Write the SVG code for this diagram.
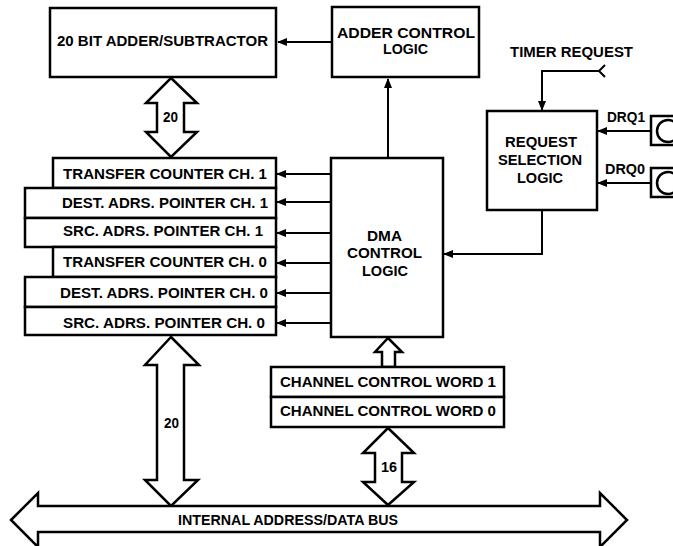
<svg xmlns="http://www.w3.org/2000/svg" width="673" height="546" viewBox="0 0 673 546">
<style>
.box{fill:#fff;stroke:#000;stroke-width:2.5}
.bus{fill:#fff;stroke:#000;stroke-width:2.5;stroke-linejoin:miter}
.ln{fill:none;stroke:#000;stroke-width:2}
text{font-family:"Liberation Sans",Arial,sans-serif;font-weight:bold;font-size:14px;fill:#000}
</style>
<defs>
<marker id="ah" markerUnits="userSpaceOnUse" markerWidth="10" markerHeight="8" refX="9" refY="4" orient="auto">
<path d="M0,0 L10,4 L0,8 Z" fill="#000"/>
</marker>
</defs>
<rect width="673" height="546" fill="#fff"/>

<g id="connectors">
<line class="ln" x1="332" y1="42" x2="278" y2="42" marker-end="url(#ah)"/>
<line class="ln" x1="388" y1="158" x2="388" y2="79" marker-end="url(#ah)"/>
<path class="ln" d="M599,71 H542 V110" marker-end="url(#ah)"/>
<polyline class="ln" points="605,65 599,71 605,77"/>
<line class="ln" x1="650" y1="131" x2="598" y2="131" marker-end="url(#ah)"/>
<line class="ln" x1="650" y1="183" x2="598" y2="183" marker-end="url(#ah)"/>
<path class="ln" d="M542,210 V254 H444" marker-end="url(#ah)"/>
<line class="ln" x1="331" y1="174" x2="277" y2="174" marker-end="url(#ah)"/>
<line class="ln" x1="331" y1="202" x2="277" y2="202" marker-end="url(#ah)"/>
<line class="ln" x1="331" y1="233" x2="277" y2="233" marker-end="url(#ah)"/>
<line class="ln" x1="331" y1="263" x2="277" y2="263" marker-end="url(#ah)"/>
<line class="ln" x1="331" y1="293" x2="277" y2="293" marker-end="url(#ah)"/>
<line class="ln" x1="331" y1="323" x2="277" y2="323" marker-end="url(#ah)"/>
<g id="bus20top">
<polygon class="bus" points="171,78 197,103 184,103 184,132 197,132 171,157 146,132 157,132 157,103 146,103"/>
<text x="163" y="122" textLength="15" lengthAdjust="spacingAndGlyphs">20</text>
</g>
<g id="bus20bottom">
<polygon class="bus" points="171,337 199,365 184,365 184,480 198,480 171,506 145,480 157,480 157,365 145,365"/>
<text x="164" y="428" textLength="15" lengthAdjust="spacingAndGlyphs">20</text>
</g>
<polygon id="ccw-to-dma" class="bus" points="388,338 402,352 395,352 395,367 382,367 382,352 375,352"/>
<g id="bus16">
<polygon class="bus" points="388,428 414,453 402,453 402,482 414,482 388,505 363,482 375,482 375,453 363,453"/>
<text x="381" y="472" textLength="16" lengthAdjust="spacingAndGlyphs">16</text>
</g>
</g>

<g id="adder">
<rect class="box" x="50" y="8" width="226" height="69"/>
<text x="57" y="46" textLength="211" lengthAdjust="spacingAndGlyphs">20 BIT ADDER/SUBTRACTOR</text>
</g>
<g id="adder-control">
<rect class="box" x="332" y="7" width="147" height="70"/>
<text x="337" y="37.5" textLength="138" lengthAdjust="spacingAndGlyphs">ADDER CONTROL</text>
<text x="383" y="53.5" textLength="45" lengthAdjust="spacingAndGlyphs">LOGIC</text>
</g>
<g id="timer-request">
<text x="510" y="57" textLength="123" lengthAdjust="spacingAndGlyphs">TIMER REQUEST</text>
</g>
<g id="request-selection">
<rect class="box" x="487" y="111" width="110" height="99"/>
<text x="505" y="147" textLength="72" lengthAdjust="spacingAndGlyphs">REQUEST</text>
<text x="498" y="165" textLength="84" lengthAdjust="spacingAndGlyphs">SELECTION</text>
<text x="517" y="183" textLength="46" lengthAdjust="spacingAndGlyphs">LOGIC</text>
</g>
<g id="drq1">
<text x="607" y="122" textLength="38" lengthAdjust="spacingAndGlyphs">DRQ1</text>
<rect class="box" x="651" y="116" width="26" height="29"/>
<circle cx="668" cy="131" r="11" fill="#fff" stroke="#000" stroke-width="2.5"/>
</g>
<g id="drq0">
<text x="605" y="174" textLength="40" lengthAdjust="spacingAndGlyphs">DRQ0</text>
<rect class="box" x="651" y="168" width="26" height="29"/>
<circle cx="668" cy="183" r="11" fill="#fff" stroke="#000" stroke-width="2.5"/>
</g>
<g id="dma-control">
<rect class="box" x="331" y="158" width="112" height="179"/>
<text x="367" y="241" textLength="35" lengthAdjust="spacingAndGlyphs">DMA</text>
<text x="347" y="258" textLength="75" lengthAdjust="spacingAndGlyphs">CONTROL</text>
<text x="362" y="276" textLength="46" lengthAdjust="spacingAndGlyphs">LOGIC</text>
</g>
<g id="registers">
<g id="tc1">
<rect class="box" x="53" y="158" width="223" height="30"/>
<text x="63" y="179" textLength="204" lengthAdjust="spacingAndGlyphs">TRANSFER COUNTER CH. 1</text>
</g>
<g id="dap1">
<rect class="box" x="25" y="188" width="251" height="30"/>
<text x="62" y="207.5" textLength="206" lengthAdjust="spacingAndGlyphs">DEST. ADRS. POINTER CH. 1</text>
</g>
<g id="sap1">
<rect class="box" x="25" y="218" width="251" height="29"/>
<text x="63" y="236" textLength="200" lengthAdjust="spacingAndGlyphs">SRC. ADRS. POINTER CH. 1</text>
</g>
<g id="tc0">
<rect class="box" x="53" y="247" width="223" height="30"/>
<text x="63" y="266.5" textLength="204" lengthAdjust="spacingAndGlyphs">TRANSFER COUNTER CH. 0</text>
</g>
<g id="dap0">
<rect class="box" x="25" y="277" width="251" height="30"/>
<text x="60" y="297.5" textLength="208" lengthAdjust="spacingAndGlyphs">DEST. ADRS. POINTER CH. 0</text>
</g>
<g id="sap0">
<rect class="box" x="25" y="307" width="251" height="28"/>
<text x="63" y="327.5" textLength="202" lengthAdjust="spacingAndGlyphs">SRC. ADRS. POINTER CH. 0</text>
</g>
</g>
<g id="channel-control">
<rect class="box" x="271" y="367" width="233" height="30"/>
<rect class="box" x="271" y="397" width="233" height="30"/>
<text x="280" y="387" textLength="216" lengthAdjust="spacingAndGlyphs">CHANNEL CONTROL WORD 1</text>
<text x="280" y="416" textLength="216" lengthAdjust="spacingAndGlyphs">CHANNEL CONTROL WORD 0</text>
</g>
<g id="internal-bus">
<polygon class="bus" points="11,520 38,493 38,506 600,506 600,493 627,520 600,547 600,532 38,532 38,547"/>
<text x="178" y="525" textLength="220" lengthAdjust="spacingAndGlyphs">INTERNAL ADDRESS/DATA BUS</text>
</g>
</svg>
